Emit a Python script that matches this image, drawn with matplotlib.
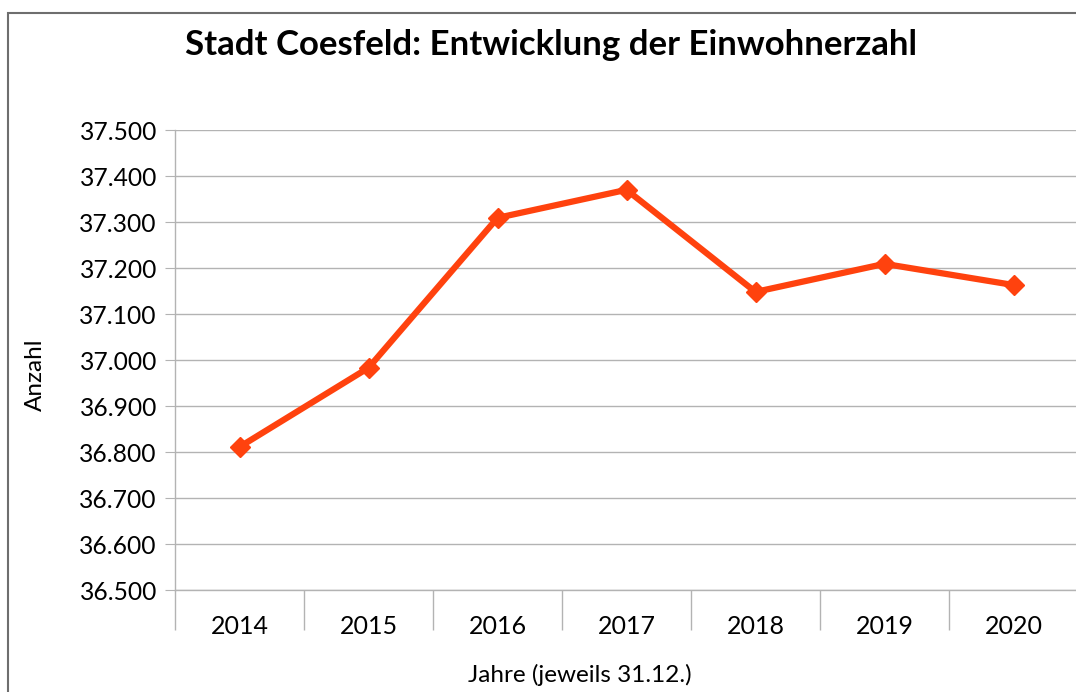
import matplotlib
matplotlib.use("Agg")
import matplotlib.pyplot as plt
from matplotlib.ticker import FuncFormatter, FixedLocator
from matplotlib.patches import Rectangle

# Einwohnerzahl, jeweils zum 31.12.
jahre = ["2014", "2015", "2016", "2017", "2018", "2019", "2020"]
einwohner = [36811, 36983, 37309, 37370, 37148, 37209, 37163]

W, H = 1076, 692
plt.rcParams['font.family'] = ['Lato', 'DejaVu Sans']

fig = plt.figure(figsize=(W / 100, H / 100), dpi=100)
fig.patch.set_facecolor('white')

# border around the chart (right and bottom are cut off in the original)
fig.patches.append(Rectangle((8 / W, -0.1), 1.2, 1 - 13 / H + 0.1,
                             transform=fig.transFigure, fill=False,
                             edgecolor='#6e6e6e', linewidth=1.5))

# plot area in pixel coords
left, right, top, bottom = 175, 1078, 130, 590
ax = fig.add_axes([left / W, 1 - bottom / H, (right - left) / W, (bottom - top) / H])

x = list(range(len(jahre)))
ax.plot(x, einwohner, color='#ff420e', linewidth=4.5, marker='D', markersize=10.5,
        solid_joinstyle='miter', zorder=3, clip_on=False)

ax.set_xlim(-0.5, len(jahre) - 0.5)
ax.set_ylim(36500, 37500)
ax.set_yticks(range(36500, 37501, 100))
ax.yaxis.set_major_formatter(FuncFormatter(lambda v, p: f"{v:,.0f}".replace(",", ".")))

ax.set_xticks(x)
ax.set_xticklabels(jahre)
ax.xaxis.set_minor_locator(FixedLocator([i - 0.5 for i in range(len(jahre) + 1)]))

ax.grid(axis='y', color='#b3b3b3', linewidth=1)
ax.set_axisbelow(True)
for s in ['top', 'right']:
    ax.spines[s].set_visible(False)
for s in ['left', 'bottom']:
    ax.spines[s].set_color('#b3b3b3')
    ax.spines[s].set_linewidth(1)

ax.tick_params(axis='y', length=7, color='#b3b3b3', labelsize=17.7, pad=6)
ax.tick_params(axis='x', which='major', length=0, labelsize=18, pad=18)
ax.tick_params(axis='x', which='minor', length=29, color='#b3b3b3', width=1)

fig.text(551 / W, 1 - 45 / H, "Stadt Coesfeld: Entwicklung der Einwohnerzahl",
         ha='center', va='center', fontsize=25, fontweight='bold')
fig.text(35 / W, 1 - 375 / H, "Anzahl", rotation=90, ha='center', va='center', fontsize=17.5)
fig.text(580 / W, 1 - 675 / H, "Jahre (jeweils 31.12.)", ha='center', va='center', fontsize=17.5)

fig.savefig("out.png", dpi=100)
